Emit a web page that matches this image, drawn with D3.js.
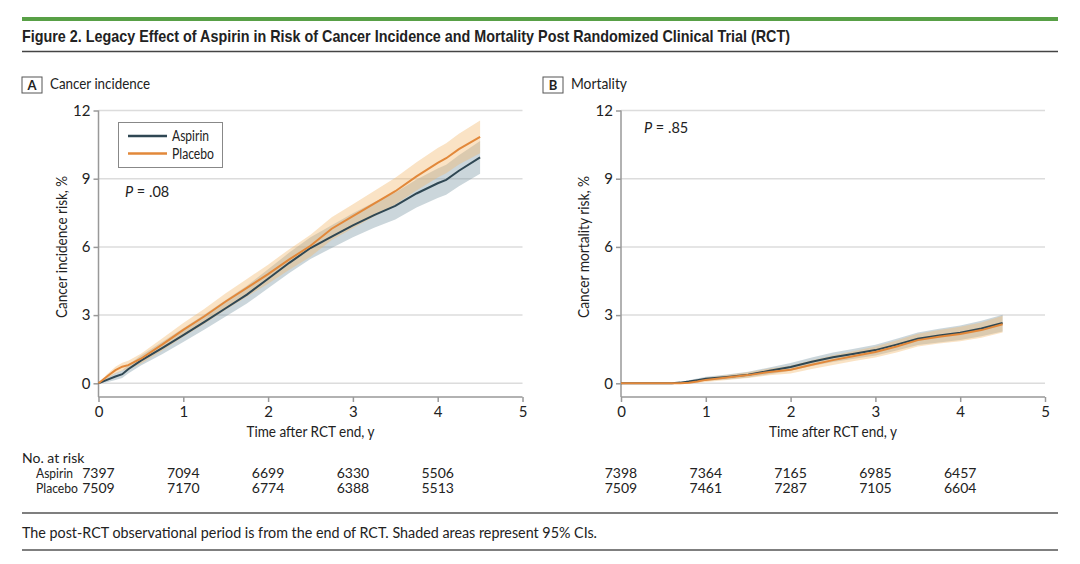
<!DOCTYPE html>
<html><head><meta charset="utf-8">
<script src="https://cdn.jsdelivr.net/npm/d3@7"></script>
<style>
html,body{margin:0;padding:0;background:#fff;}
svg text{font-family:Lato,"Noto Sans",sans-serif;fill:#222;}
</style></head>
<body><svg id="c" width="1080" height="564"></svg>
<script>
// ---- data ----
const timeA = [0,0.1,0.2,0.28,0.35,0.5,0.75,1.0,1.25,1.5,1.75,2.0,2.25,2.5,2.75,3.0,3.25,3.5,3.75,4.0,4.1,4.25,4.5];
const aspirinA = [0,0.15,0.3,0.4,0.62,1.0,1.55,2.12,2.7,3.3,3.9,4.6,5.3,5.95,6.45,6.95,7.4,7.8,8.35,8.8,8.95,9.35,9.94];
const placeboA = [0,0.3,0.58,0.73,0.8,1.08,1.7,2.35,2.95,3.6,4.2,4.8,5.45,6.05,6.8,7.35,7.9,8.45,9.1,9.7,9.9,10.3,10.84];
const ciHalfA = [0,0.1,0.15,0.17,0.19,0.22,0.27,0.3,0.33,0.36,0.39,0.42,0.45,0.48,0.5,0.53,0.56,0.59,0.62,0.65,0.66,0.68,0.72];

const timeB = [0,0.6,0.7,0.8,0.9,1.0,1.25,1.5,1.75,2.0,2.25,2.5,2.75,3.0,3.25,3.5,3.75,4.0,4.25,4.5];
const aspirinB = [0,0,0.03,0.08,0.14,0.2,0.28,0.38,0.55,0.72,0.95,1.15,1.3,1.46,1.7,1.96,2.1,2.22,2.41,2.65];
const placeboB = [0,0,0,0.02,0.08,0.15,0.25,0.36,0.5,0.6,0.82,1.02,1.2,1.38,1.62,1.9,2.05,2.17,2.34,2.6];
const ciHalfB = [0,0,0.03,0.05,0.07,0.09,0.11,0.13,0.15,0.17,0.19,0.21,0.22,0.24,0.26,0.28,0.3,0.32,0.34,0.37];

const xTicks = [0,1,2,3,4,5];
const yTicks = [0,3,6,9,12];
const riskAspirinA = [7397,7094,6699,6330,5506];
const riskPlaceboA = [7509,7170,6774,6388,5513];
const riskAspirinB = [7398,7364,7165,6985,6457];
const riskPlaceboB = [7509,7461,7287,7105,6604];

const titleText = "Figure 2. Legacy Effect of Aspirin in Risk of Cancer Incidence and Mortality Post Randomized Clinical Trial (RCT)";
const footText = "The post-RCT observational period is from the end of RCT. Shaded areas represent 95% CIs.";

// ---- styles ----
const C_ASP = "#2f4753", C_PLC = "#e2883a";
const F_ASP = "#7d98a4", F_PLC = "#f3b86f";

const svg = d3.select("#c");
svg.append("rect").attr("x",22).attr("y",17).attr("width",1036).attr("height",4).attr("fill","#58a046");
svg.append("text").attr("x",22).attr("y",42).text(titleText)
  .style("font-family","'Liberation Sans Narrow','Liberation Sans',sans-serif")
  .style("font-weight","bold").style("font-size","17px")
  .attr("textLength",768).attr("lengthAdjust","spacingAndGlyphs");
svg.append("line").attr("x1",22).attr("x2",1058).attr("y1",51.5).attr("y2",51.5).attr("stroke","#444").attr("stroke-width",1.5);
svg.append("line").attr("x1",22).attr("x2",1058).attr("y1",513).attr("y2",513).attr("stroke","#555").attr("stroke-width",1.5);
svg.append("line").attr("x1",22).attr("x2",1058).attr("y1",550).attr("y2",550).attr("stroke","#555").attr("stroke-width",1.5);
svg.append("text").attr("x",22).attr("y",538).text(footText).style("font-size","15.5px")
  .attr("textLength",575).attr("lengthAdjust","spacingAndGlyphs");

function panel(o){
  const g = svg.append("g");
  const x = d3.scaleLinear().domain([0,5]).range([o.x0, o.x0+424]);
  const y = d3.scaleLinear().domain([0,12]).range([383.3,110.5]);
  // header
  g.append("rect").attr("x",o.bx).attr("y",77).attr("width",20).attr("height",16).attr("fill","none").attr("stroke","#555").attr("stroke-width",1);
  g.append("text").attr("x",o.bx+10).attr("y",89.5).attr("text-anchor","middle").text(o.letter).style("font-weight","bold").style("font-size","13px");
  g.append("text").attr("x",o.bx+28).attr("y",89).text(o.head).style("font-size","15px")
    .attr("textLength",o.hw).attr("lengthAdjust","spacingAndGlyphs");
  // grid
  g.selectAll(".grid").data(yTicks).join("line")
    .attr("x1",o.x0).attr("x2",o.x0+424).attr("y1",d=>y(d)).attr("y2",d=>y(d))
    .attr("stroke","#dcdcdc").attr("stroke-width",1.5);
  // y axis
  const ya = g.append("g").attr("transform",`translate(${o.x0},0)`)
    .call(d3.axisLeft(y).tickValues(yTicks).tickFormat(d3.format("d")).tickSize(5).tickPadding(3));
  ya.attr("font-size",null).attr("font-family",null);
  ya.select(".domain").attr("d",`M0,${y(12)}V397`).attr("stroke","#999").attr("stroke-width",1.5);
  ya.selectAll(".tick line").attr("stroke","#999").attr("stroke-width",1.5);
  ya.selectAll("text").style("font-size","15px").attr("fill","#222");
  // x axis
  const xa = g.append("g").attr("transform","translate(0,397)")
    .call(d3.axisBottom(x).tickValues(xTicks).tickFormat(d3.format("d")).tickSize(5).tickPadding(4));
  xa.attr("font-size",null).attr("font-family",null);
  xa.select(".domain").attr("d",`M${o.x0},0H${o.x0+424}`).attr("stroke","#999").attr("stroke-width",1.5);
  xa.selectAll(".tick line").attr("stroke","#999").attr("stroke-width",1.5);
  xa.selectAll("text").style("font-size","15px").attr("fill","#222");
  g.append("text").attr("x",o.x0+212).attr("y",437).attr("text-anchor","middle").text("Time after RCT end, y").style("font-size","14.5px")
    .attr("textLength",128).attr("lengthAdjust","spacingAndGlyphs");
  g.append("text").attr("transform",`translate(${o.ylx},${y(6)}) rotate(-90)`).attr("text-anchor","middle")
    .text(o.ylab).style("font-size","15px").attr("textLength",142).attr("lengthAdjust","spacingAndGlyphs");
  // bands & lines
  const series = [
    {v:o.asp, c:C_ASP, f:F_ASP, fo:0.4},
    {v:o.plc, c:C_PLC, f:F_PLC, fo:0.4}
  ];
  const area = d3.area().x((d,i)=>x(o.t[i])).y0((d,i)=>y(Math.max(0,d.v-d.h))).y1((d,i)=>y(d.v+d.h));
  const line = d3.line().x((d,i)=>x(o.t[i])).y(d=>y(d));
  series.forEach(s=>{
    g.append("path").datum(s.v.map((v,i)=>({v:v,h:o.ci[i]}))).attr("d",area).attr("fill",s.f).attr("fill-opacity",s.fo);
  });
  series.forEach(s=>{
    g.append("path").datum(s.v).attr("d",line).attr("fill","none").attr("stroke",s.c).attr("stroke-width",2);
  });
  // P value
  const pt = g.append("text").attr("x",o.px).attr("y",o.py).style("font-size","14.5px");
  pt.append("tspan").text("P").style("font-style","italic");
  pt.append("tspan").text(" = " + o.p);
  // numbers at risk
  g.selectAll(".ra").data(o.ra).join("text").attr("x",(d,i)=>x(xTicks[i])).attr("y",478)
    .attr("text-anchor","middle").text(d=>d).style("font-size","14px");
  g.selectAll(".rp").data(o.rp).join("text").attr("x",(d,i)=>x(xTicks[i])).attr("y",493)
    .attr("text-anchor","middle").text(d=>d).style("font-size","14px");
  return {x,y};
}

panel({x0:98.5, bx:22, letter:"A", head:"Cancer incidence", hw:100, ylab:"Cancer incidence risk, %", ylx:67,
  t:timeA, asp:aspirinA, plc:placeboA, ci:ciHalfA, px:125, py:197, p:".08", ra:riskAspirinA, rp:riskPlaceboA});
panel({x0:621, bx:543, letter:"B", head:"Mortality", hw:56, ylab:"Cancer mortality risk, %", ylx:589,
  t:timeB, asp:aspirinB, plc:placeboB, ci:ciHalfB, px:644, py:133, p:".85", ra:riskAspirinB, rp:riskPlaceboB});

// number at risk labels
svg.append("text").attr("x",22).attr("y",463).text("No. at risk").style("font-size","14px");
svg.append("text").attr("x",36).attr("y",478).text("Aspirin").style("font-size","14px").attr("textLength",37).attr("lengthAdjust","spacingAndGlyphs");
svg.append("text").attr("x",36).attr("y",493).text("Placebo").style("font-size","14px").attr("textLength",42).attr("lengthAdjust","spacingAndGlyphs");

// legend
const lg = svg.append("g");
lg.append("rect").attr("x",118.5).attr("y",122.5).attr("width",104).attr("height",45).attr("fill","#fff").attr("stroke","#888").attr("stroke-width",1);
[["Aspirin",C_ASP,136,37],["Placebo",C_PLC,153.5,42]].forEach(([n,c,yy,w])=>{
  lg.append("line").attr("x1",128).attr("x2",167).attr("y1",yy).attr("y2",yy).attr("stroke",c).attr("stroke-width",2.5);
  lg.append("text").attr("x",172).attr("y",yy+5).text(n).style("font-size","14.5px").attr("textLength",w).attr("lengthAdjust","spacingAndGlyphs");
});
</script></body></html>
